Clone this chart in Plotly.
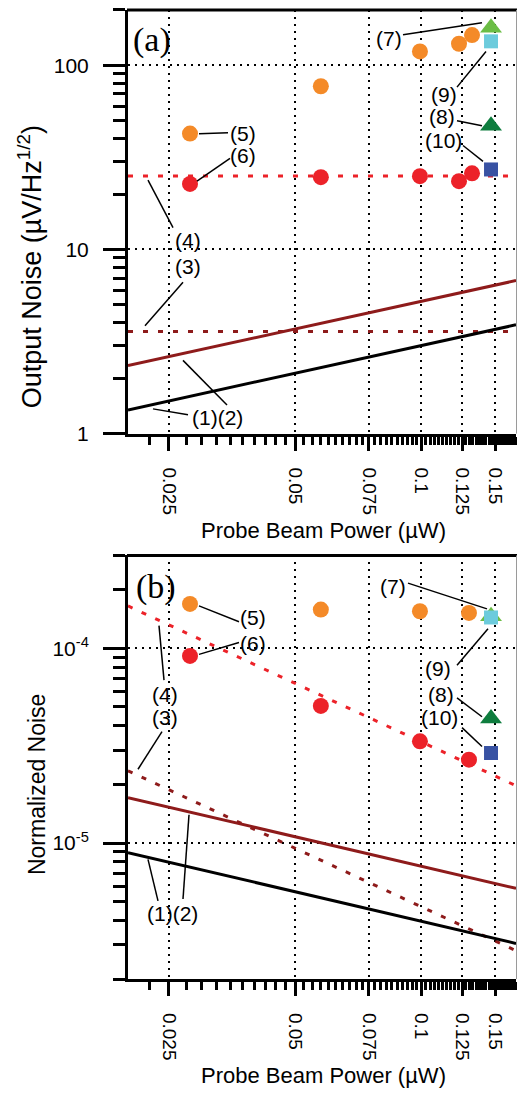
import math
import plotly.graph_objects as go

# ---------------- data ----------------
x_tick_vals = [0.025, 0.05, 0.075, 0.1, 0.125, 0.15]
x_tick_text = ["0.025", "0.05", "0.075", "0.1", "0.125", "0.15"]
x_minor_vals = [round(0.02 + 0.0025 * i, 4) for i in range(1, 60)
                if round(0.02 + 0.0025 * i, 4) not in x_tick_vals and 0.02 + 0.0025 * i < 0.168]

ya_tick_vals = [1, 10, 100]
ya_tick_text = ["1", "10", "100"]
ya_minor_vals = [2, 3, 4, 5, 6, 7, 8, 9, 20, 30, 40, 50, 60, 70, 80, 90, 200]

yb_tick_vals = [1e-5, 1e-4]
yb_tick_text = ["10<sup>-5</sup>", "10<sup>-4</sup>"]
yb_minor_vals = [2e-6, 3e-6, 4e-6, 5e-6, 6e-6, 7e-6, 8e-6, 9e-6,
                 2e-5, 3e-5, 4e-5, 5e-5, 6e-5, 7e-5, 8e-5, 9e-5, 2e-4, 3e-4]

# theory lines (endpoints, log-log straight lines)
line_x = [0.02, 0.168]
a_line1 = [1.345, 3.90]
a_line2 = [2.34, 6.78]
a_line3 = [3.59, 3.59]
a_line4 = [25.1, 25.1]
b_line1 = [8.93e-6, 3.05e-6]
b_line2 = [1.71e-5, 5.85e-6]
b_line3 = [2.35e-5, 2.80e-6]
b_line4 = [1.65e-4, 1.97e-5]

# measured points, panel (a)
a5_x = [0.0281, 0.0576, 0.0992, 0.1229, 0.132]
a5_y = [42.6, 77.0, 119.0, 131.0, 146.0]
a6_x = [0.0281, 0.0576, 0.0992, 0.1229, 0.132]
a6_y = [22.7, 24.7, 25.0, 23.5, 25.9]
a7_x, a7_y = [0.1465], [160.0]
a8_x, a8_y = [0.1465], [47.0]
a9_x, a9_y = [0.1465], [135.0]
a10_x, a10_y = [0.1465], [27.2]

# measured points, panel (b)
b5_x = [0.0281, 0.0576, 0.0992, 0.1298]
b5_y = [1.69e-4, 1.58e-4, 1.55e-4, 1.52e-4]
b6_x = [0.0281, 0.0576, 0.0992, 0.1298]
b6_y = [9.14e-5, 5.06e-5, 3.33e-5, 2.68e-5]
b7_x, b7_y = [0.1465], [1.46e-4]
b8_x, b8_y = [0.1465], [4.36e-5]
b9_x, b9_y = [0.1465], [1.44e-4]
b10_x, b10_y = [0.1465], [2.90e-5]

# ---------------- style ----------------
W, H = 517, 1102
FONT = "Liberation Sans, Arial, Helvetica, sans-serif"
ORANGE = "#F48A28"
RED = "#EC2229"
LGREEN = "#6BBD45"
CYAN = "#6CCBDC"
DGREEN = "#0E7D3E"
BLUE = "#3852A3"
MAROON = "#8E1B1B"


def px(X):
    return X / W


def py(Y):
    return 1 - Y / H


fig = go.Figure()


def add_lines(xa, ya, l1, l2, l3, l4):
    fig.add_trace(go.Scatter(x=line_x, y=l4, mode="lines", xaxis=xa, yaxis=ya,
                             line=dict(color=RED, width=3, dash="5px,10px")))
    fig.add_trace(go.Scatter(x=line_x, y=l3, mode="lines", xaxis=xa, yaxis=ya,
                             line=dict(color=MAROON, width=3, dash="5px,10px")))
    fig.add_trace(go.Scatter(x=line_x, y=l2, mode="lines", xaxis=xa, yaxis=ya,
                             line=dict(color=MAROON, width=3)))
    fig.add_trace(go.Scatter(x=line_x, y=l1, mode="lines", xaxis=xa, yaxis=ya,
                             line=dict(color="black", width=3)))


def add_pts(xa, ya, x, y, color, symbol, size):
    fig.add_trace(go.Scatter(x=x, y=y, mode="markers", xaxis=xa, yaxis=ya, cliponaxis=False,
                             marker=dict(color=color, symbol=symbol, size=size, line=dict(width=0))))


add_lines("x", "y", a_line1, a_line2, a_line3, a_line4)
add_pts("x", "y", a5_x, a5_y, ORANGE, "circle", 16)
add_pts("x", "y", a6_x, a6_y, RED, "circle", 16)
add_pts("x", "y", a7_x, a7_y, LGREEN, "triangle-up", 19)
add_pts("x", "y", a8_x, a8_y, DGREEN, "triangle-up", 19)
add_pts("x", "y", a9_x, a9_y, CYAN, "square", 14)
add_pts("x", "y", a10_x, a10_y, BLUE, "square", 14)

add_lines("x2", "y2", b_line1, b_line2, b_line3, b_line4)
add_pts("x2", "y2", b5_x, b5_y, ORANGE, "circle", 16)
add_pts("x2", "y2", b6_x, b6_y, RED, "circle", 16)
add_pts("x2", "y2", b7_x, b7_y, LGREEN, "triangle-up", 19)
add_pts("x2", "y2", b8_x, b8_y, DGREEN, "triangle-up", 19)
add_pts("x2", "y2", b9_x, b9_y, CYAN, "square", 14)
add_pts("x2", "y2", b10_x, b10_y, BLUE, "square", 14)

xdom = [px(128), px(516)]
ya_dom = [py(438), py(10)]
yb_dom = [py(989), py(561)]


def xaxis_cfg(anchor):
    return dict(type="log", domain=xdom, anchor=anchor,
                range=[math.log10(0.02), math.log10(0.168)],
                tickmode="array", tickvals=x_tick_vals, ticktext=x_tick_text,
                tickangle=90, ticks="outside", ticklen=14, tickwidth=3, tickcolor="black",
                ticklabelstandoff=13,
                tickfont=dict(family=FONT, size=19, color="black"),
                showline=True, linewidth=3, linecolor="black",
                showgrid=True, gridcolor="black", gridwidth=1.5, griddash="2px,5px",
                minor=dict(tickmode="array", tickvals=x_minor_vals, ticks="outside",
                           ticklen=8, tickwidth=2.5, tickcolor="black", showgrid=False),
                zeroline=False, fixedrange=True)


def yaxis_cfg(anchor, dom, rng, tv, tt, mv):
    return dict(type="log", domain=dom, anchor=anchor, range=rng,
                tickmode="array", tickvals=tv, ticktext=tt,
                ticks="outside", ticklen=22, tickwidth=3, tickcolor="black",
                ticklabelstandoff=10,
                tickfont=dict(family=FONT, size=21, color="black"),
                showline=True, linewidth=3, linecolor="black",
                showgrid=True, gridcolor="black", gridwidth=1.5, griddash="2px,5px",
                minor=dict(tickmode="array", tickvals=mv, ticks="outside",
                           ticklen=12, tickwidth=3, tickcolor="black", showgrid=False),
                zeroline=False, fixedrange=True)


fig.update_layout(
    width=W, height=H, margin=dict(l=0, r=0, t=0, b=0),
    paper_bgcolor="white", plot_bgcolor="white", showlegend=False,
    xaxis=xaxis_cfg("y"),
    yaxis=yaxis_cfg("x", ya_dom, [0, math.log10(200)], ya_tick_vals, ya_tick_text, ya_minor_vals),
    xaxis2=xaxis_cfg("y2"),
    yaxis2=yaxis_cfg("x2", yb_dom, [math.log10(2e-6), math.log10(3e-4)], yb_tick_vals, yb_tick_text, yb_minor_vals),
)

shapes = []
# frame: thick top border, thin grey right border
for top, bot in [(10, 438), (561, 989)]:
    shapes.append(dict(type="line", xref="paper", yref="paper", x0=px(127), x1=px(517), y0=py(top), y1=py(top),
                       line=dict(color="black", width=3)))
    shapes.append(dict(type="line", xref="paper", yref="paper", x0=px(516.5), x1=px(516.5), y0=py(top), y1=py(bot),
                       line=dict(color="#9a9a9a", width=1)))

# leader lines (pixel positions)
leaders = [
    (403, 35, 482, 23), (457, 88, 486, 52), (457, 122, 482, 127), (463, 147, 483, 163),
    (199, 135, 228, 134), (197, 183, 230, 160), (148, 182, 173, 230), (145, 329, 183, 285),
    (153, 413, 188, 419), (183, 364, 227, 409),
    (199, 612, 239, 628), (199, 661, 239, 649), (159, 632, 164, 687), (138, 777, 162, 739),
    (148, 868, 158, 910), (189, 823, 183, 908),
    (408, 589, 487, 615), (457, 672, 488, 635), (457, 705, 482, 724), (462, 735, 482, 754),
]
for x0, y0, x1, y1 in leaders:
    shapes.append(dict(type="line", xref="paper", yref="paper", x0=px(x0), y0=py(y0), x1=px(x1), y1=py(y1),
                       line=dict(color="black", width=1.5)))
fig.update_layout(shapes=shapes)

labels = [
    ("(7)", 389, 39), ("(9)", 444, 95), ("(8)", 442, 118), ("(10)", 443, 142),
    ("(5)", 243, 135), ("(6)", 243, 157), ("(4)", 188, 243), ("(3)", 188, 269), ("(1)(2)", 217, 422),
    ("(5)", 253, 624), ("(6)", 253, 650), ("(4)", 165, 702), ("(3)", 165, 725), ("(1)(2)", 172, 923),
    ("(7)", 393, 592), ("(9)", 438, 675), ("(8)", 441, 702), ("(10)", 439, 725),
]
ann = []
for t, cx, cy in labels:
    ann.append(dict(text=t, x=px(cx), y=py(cy), xref="paper", yref="paper", showarrow=False,
                    xanchor="center", yanchor="middle", font=dict(family=FONT, size=21, color="black")))

ann.append(dict(text="(a)", x=px(152), y=py(40), xref="paper", yref="paper", showarrow=False,
                xanchor="center", yanchor="middle", font=dict(family="Liberation Serif, Times New Roman, serif", size=34, color="black")))
ann.append(dict(text="(b)", x=px(156), y=py(593), xref="paper", yref="paper", showarrow=False,
                xanchor="center", yanchor="middle", font=dict(family="Liberation Serif, Times New Roman, serif", size=34, color="black")))

for cy in [536, 1086]:
    ann.append(dict(text="Probe Beam Power (µW)", x=px(323), y=py(cy), xref="paper", yref="paper", showarrow=False,
                    xanchor="center", yanchor="middle", font=dict(family=FONT, size=22, color="black")))
ann.append(dict(text="Output Noise (µV/Hz<sup>1/2</sup>)", x=px(30), y=py(270), xref="paper", yref="paper",
                showarrow=False, textangle=-90, xanchor="center", yanchor="middle",
                font=dict(family=FONT, size=27, color="black")))
ann.append(dict(text="Normalized Noise", x=px(37), y=py(792), xref="paper", yref="paper",
                showarrow=False, textangle=-90, xanchor="center", yanchor="middle",
                font=dict(family=FONT, size=23, color="black")))
fig.update_layout(annotations=ann)

fig.write_html("out.html", config={"displayModeBar": False},
               post_script="document.body.style.margin='0px';document.body.style.overflow='hidden';")
